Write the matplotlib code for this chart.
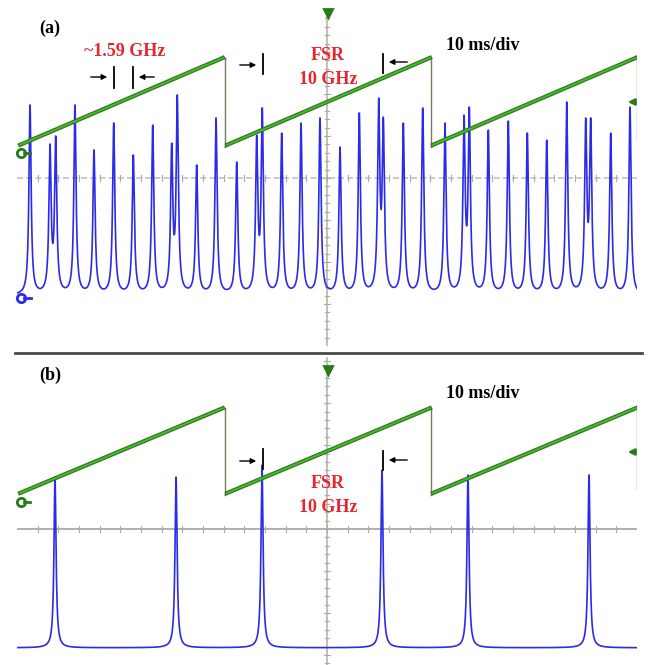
import numpy as np
import matplotlib
matplotlib.use("Agg")
import matplotlib.pyplot as plt
from matplotlib import patheffects as pe
from matplotlib.lines import Line2D
from matplotlib.patches import FancyArrowPatch

# ---------------- data (time in ms, amplitude in divisions) ----------------
peak_t_a = [2.10, 5.32, 6.24, 9.35, 12.42, 15.60, 18.76, 21.89, 24.95, 25.85,
            28.98, 32.10, 35.44, 38.66, 39.56, 42.69, 45.81, 48.87, 52.10, 55.21,
            58.34, 59.08, 62.31, 65.44, 69.03, 72.10, 72.95, 76.02, 79.24, 82.31,
            85.44, 88.66, 91.73, 92.53, 95.76, 98.87]
peak_v_a = [1.74, 0.81, 1.00, 1.74, 0.67, 1.31, 0.55, 1.26, 0.83, 1.98,
            0.31, 1.43, 0.38, 1.02, 1.67, 1.07, 1.31, 1.43, 0.74, 1.55,
            1.90, 1.45, 1.31, 1.67, 1.31, 1.50, 1.69, 1.14, 1.36, 1.07,
            0.90, 1.81, 1.43, 1.43, 1.07, 1.69]
baseline_a = -2.80

peak_t_b = [6.13, 25.65, 39.52, 58.87, 72.74, 92.26]
peak_v_b = [1.24, 1.24, 1.52, 1.40, 1.29, 1.29]
baseline_b = -2.83

ramp_start = [0.5, 33.9, 67.1]
ramp_end = [33.2, 66.6, 99.8]
ramp_low_a, ramp_high_a = 0.79, 2.86
ramp_low_b, ramp_high_b = 0.86, 2.88

labels_a = {"panel": "(a)", "scale": "10 ms/div", "mode": "~1.59 GHz", "fsr": ["FSR", "10 GHz"]}
labels_b = {"panel": "(b)", "scale": "10 ms/div", "fsr": ["FSR", "10 GHz"]}

# ---------------- figure ----------------
W, H = 651, 665
fig = plt.figure(figsize=(W / 100, H / 100), dpi=100)
fig.patch.set_facecolor("white")

def fx(x):
    return x / W

def fy(y):
    return 1 - y / H

BLUE = "#2b2be8"
GREEN = "#4cb830"
GREEN_DK = "#2a7a1a"
RED = "#e8242c"
SERIF = ["Liberation Serif", "DejaVu Serif"]

ax_a = fig.add_axes([17 / W, (H - 346) / H, 620 / W, 336 / H])
ax_b = fig.add_axes([17 / W, 0, 620 / W, 308 / H])
ax_a.set_xlim(0, 100); ax_a.set_ylim(-4, 4)
ax_b.set_xlim(0, 100); ax_b.set_ylim(-3.24, 4.1)

t = np.linspace(0, 100, 8000)

def lorentz(x, g):
    return 1.0 / (1.0 + (x / g) ** 2)

def trace(pt, pv, base, g):
    pt = np.asarray(pt); pv = np.asarray(pv)
    M = lorentz(pt[:, None] - pt[None, :], g)
    amps = np.linalg.solve(M, pv - base)
    y = np.full_like(t, base)
    for c, a in zip(pt, amps):
        y += a * lorentz(t - c, g)
    return y

for ax, pt, pv, base, g, lo, hi, grid_ls, grid_c in [
        (ax_a, peak_t_a, peak_v_a, baseline_a, 0.21, ramp_low_a, ramp_high_a, (0, (4, 2)), "#bdbdad"),
        (ax_b, peak_t_b, peak_v_b, baseline_b, 0.20, ramp_low_b, ramp_high_b, "-", "#9a9a9a")]:
    ax.axis("off")
    ylo, yhi = ax.get_ylim()
    # graticule: centre lines with tick marks
    ax.axhline(0, color=grid_c, lw=1.1, ls=grid_ls, zorder=1)
    ax.axvline(50, color="#b0b0a0", lw=1.1, zorder=1)
    for xt in np.arange(100 / 30, 100, 100 / 30):
        ax.plot([xt, xt], [-0.07, 0.07], color="#aaaaaa", lw=0.8, zorder=1)
    for yt in np.arange(np.ceil(ylo / 0.2) * 0.2, yhi, 0.2):
        half = 0.5 if abs(yt / 0.5 - round(yt / 0.5)) < 1e-6 else 0.25
        ax.plot([50 - half, 50 + half], [yt, yt], color="#aaaaaa", lw=0.8, zorder=1)
    # blue transmission trace
    ax.plot(t, trace(pt, pv, base, g), color=BLUE, lw=1.2, zorder=3)
    # green sweep ramp
    for s, e in zip(ramp_start, ramp_end):
        ax.plot([s, e], [lo, hi], color=GREEN, lw=1.3, zorder=4,
                path_effects=[pe.Stroke(linewidth=3.0, foreground=GREEN_DK), pe.Normal()])
    for e, s in zip(ramp_end[:-1], ramp_start[1:]):
        xd = (e + s) / 2
        ax.plot([e, xd], [hi, hi], color="#7a7a60", lw=1, zorder=2)
        ax.plot([xd, xd], [hi, lo - 0.05], color="#7a7a60", lw=1, zorder=2)
        ax.plot([xd, s], [lo - 0.05, lo], color="#7a7a60", lw=1, zorder=2)
    ax.plot([100, 100], [hi, 0.95], color="#8a8a50", lw=1, zorder=2)

# separator between panels
fig.add_artist(Line2D([fx(15), fx(642)], [fy(353), fy(353)], transform=fig.transFigure,
                      color="#4a4a4a", lw=2))

# channel / trigger markers
def marker(x, y, color, m="o"):
    fig.add_artist(Line2D([fx(x)], [fy(y)], transform=fig.transFigure, marker=m, ms=6,
                          mfc="none" if m == "o" else color, mec=color, mew=2, ls="none"))

def dash(x0, x1, y, color, lw=2):
    fig.add_artist(Line2D([fx(x0), fx(x1)], [fy(y), fy(y)], transform=fig.transFigure,
                          color=color, lw=lw))

marker(21, 153, GREEN_DK); dash(24, 30, 153, GREEN_DK)
marker(21, 298, BLUE); dash(24, 31, 298, BLUE)
marker(21, 502, GREEN_DK); dash(24, 30, 502, GREEN_DK)
marker(328, 13, GREEN_DK, "v")
marker(328, 370, GREEN_DK, "v")

def arrow(x0, x1, y, color="black", ms=8, lw=1.0):
    fig.add_artist(FancyArrowPatch((fx(x0), fy(y)), (fx(x1), fy(y)), transform=fig.transFigure,
                                   arrowstyle="-|>", mutation_scale=ms, lw=lw, color=color))

def bar(x, y0, y1):
    fig.add_artist(Line2D([fx(x), fx(x)], [fy(y0), fy(y1)], transform=fig.transFigure,
                          color="black", lw=1.3))

arrow(638, 625, 102, GREEN_DK, 9, 1.8)
arrow(638, 625, 452, GREEN_DK, 9, 1.8)

txt = dict(family=SERIF, weight="bold", fontsize=13, ha="center", va="center")

# panel (a) annotations
fig.text(fx(50), fy(28), labels_a["panel"], **txt)
fig.text(fx(483), fy(45), labels_a["scale"], **txt)
fig.text(fx(125), fy(52), labels_a["mode"], color=RED, **txt)
fig.text(fx(328), fy(55), labels_a["fsr"][0], color=RED, **txt)
fig.text(fx(328), fy(79), labels_a["fsr"][1], color=RED, **txt)
arrow(88, 110, 77); bar(114, 67, 88); bar(133, 67, 88); arrow(157, 136, 77)
arrow(237, 259, 65); bar(263, 54, 74)
arrow(410, 386, 62); bar(383, 54, 73)

# panel (b) annotations
fig.text(fx(50), fy(375), labels_b["panel"], **txt)
fig.text(fx(483), fy(393), labels_b["scale"], **txt)
fig.text(fx(328), fy(484), labels_b["fsr"][0], color=RED, **txt)
fig.text(fx(328), fy(507), labels_b["fsr"][1], color=RED, **txt)
arrow(237, 259, 461); bar(263, 449, 469)
arrow(410, 386, 460); bar(383, 451, 470)

fig.savefig("out.png", dpi=100, facecolor="white")
